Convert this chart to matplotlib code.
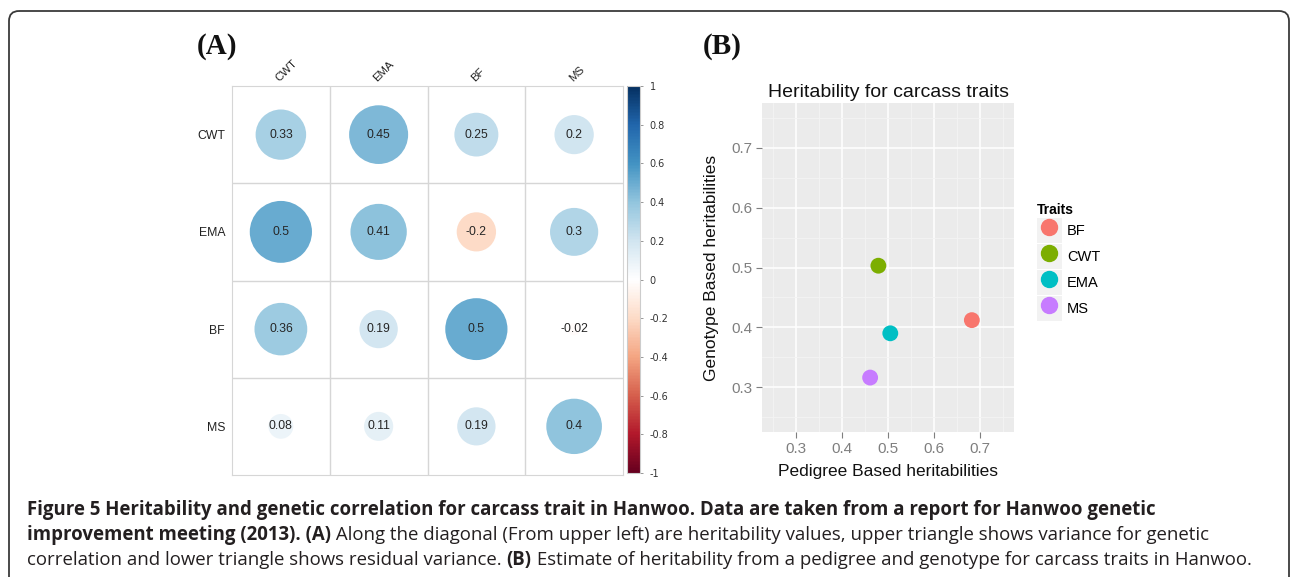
import numpy as np
import matplotlib
matplotlib.use("Agg")
import matplotlib.pyplot as plt
from matplotlib.colors import LinearSegmentedColormap, Normalize
from matplotlib.patches import Circle, Rectangle, FancyBboxPatch
from matplotlib.lines import Line2D
from matplotlib.cm import ScalarMappable
from matplotlib.legend_handler import HandlerTuple

# ---- data: panel A (corrplot) ----
traits = ["CWT", "EMA", "BF", "MS"]
corr_vals = np.array([
    [0.33, 0.45, 0.25, 0.2],
    [0.5, 0.41, -0.2, 0.3],
    [0.36, 0.19, 0.5, -0.02],
    [0.08, 0.11, 0.19, 0.4],
])
cbar_ticks = [-1, -0.8, -0.6, -0.4, -0.2, 0, 0.2, 0.4, 0.6, 0.8, 1]

# ---- data: panel B (heritability scatter) ----
b_traits = ["BF", "CWT", "EMA", "MS"]
b_pedigree = [0.683, 0.479, 0.505, 0.461]
b_genotype = [0.412, 0.503, 0.390, 0.316]
b_colors = ["#F8766D", "#7CAE00", "#00BFC4", "#C77CFF"]
b_ticks = [0.3, 0.4, 0.5, 0.6, 0.7]

# corrplot default palette
corr_palette = ["#67001F", "#B2182B", "#D6604D", "#F4A582", "#FDDBC7", "#FFFFFF",
                "#D1E5F0", "#92C5DE", "#4393C3", "#2166AC", "#053061"]
cmap = LinearSegmentedColormap.from_list("corrplot", corr_palette)
norm = Normalize(-1, 1)

W, H = 1290, 577
fig = plt.figure(figsize=(W / 100, H / 100), dpi=100)

# background axes in pixel coords (for the frame, panel letters and caption)
bg = fig.add_axes([0, 0, 1, 1])
bg.set_xlim(0, W)
bg.set_ylim(H, 0)
bg.axis("off")
bg.add_patch(FancyBboxPatch((9, 11), 1280, 700, boxstyle="round,pad=0,rounding_size=10",
                            fc="none", ec="#3a3a3a", lw=1.3))

bg.text(197, 46, "(A)", family="Liberation Serif", weight="bold", fontsize=21,
        ha="left", va="center", color="#111111")
bg.text(703, 46, "(B)", family="Liberation Serif", weight="bold", fontsize=21,
        ha="left", va="center", color="#111111")

# ---- panel A ----
axA = fig.add_axes([232 / W, 1 - 475 / H, 391 / W, 389 / H])
axA.set_xlim(0, 4)
axA.set_ylim(4, 0)
for i in range(4):
    for j in range(4):
        v = corr_vals[i, j]
        axA.add_patch(Circle((j + 0.5, i + 0.5), 0.45 * np.sqrt(abs(v)),
                             fc=cmap(norm(v)), ec="none"))
        axA.text(j + 0.5, i + 0.5, f"{v:g}", ha="center", va="center",
                 fontsize=8.8, family="Liberation Sans", color="#262626")
for k in [1, 2, 3]:
    axA.axhline(k, color="#D6D6D6", lw=1)
    axA.axvline(k, color="#D6D6D6", lw=1)
for sp in axA.spines.values():
    sp.set_color("#D6D6D6")
axA.set_yticks(np.arange(4) + 0.5, traits, fontsize=8.8, family="Liberation Sans")
axA.xaxis.tick_top()
axA.set_xticks(np.arange(4) + 0.5, traits, fontsize=8.2, family="Liberation Sans",
               rotation=45, ha="left", rotation_mode="anchor")
axA.tick_params(length=0, colors="#222222")
axA.tick_params(axis="y", pad=5)
axA.tick_params(axis="x", pad=2)

cax = fig.add_axes([627 / W, 1 - 473 / H, 13 / W, 387 / H])
cb = fig.colorbar(ScalarMappable(norm=norm, cmap=cmap), cax=cax, ticks=cbar_ticks)
cb.ax.set_yticklabels([f"{t:g}" for t in cbar_ticks])
cb.ax.tick_params(labelsize=7, length=2, width=0.6, color="#888888",
                  labelcolor="#333333", pad=5)
cb.outline.set_edgecolor("#CCCCCC")
cb.outline.set_linewidth(0.8)

# ---- panel B ----
axB = fig.add_axes([762 / W, 1 - 432 / H, 252 / W, 329 / H])
axB.set_facecolor("#EBEBEB")
for sp in axB.spines.values():
    sp.set_visible(False)
axB.set_xlim(0.225, 0.775)
axB.set_ylim(0.225, 0.775)
axB.set_xticks(b_ticks)
axB.set_yticks(b_ticks)
minor = [0.25, 0.35, 0.45, 0.55, 0.65, 0.75]
axB.set_xticks(minor, minor=True)
axB.set_yticks(minor, minor=True)
axB.grid(which="major", color="white", lw=1.1)
axB.grid(which="minor", color="#F4F4F4", lw=0.6)
axB.set_axisbelow(True)
axB.tick_params(which="major", length=4, width=0.8, color="#7F7F7F",
                labelcolor="#7F7F7F", labelsize=11, pad=3)
axB.tick_params(which="minor", length=0)
for lab in axB.get_xticklabels() + axB.get_yticklabels():
    lab.set_family("Liberation Sans")

for name, px, gy, c in zip(b_traits, b_pedigree, b_genotype, b_colors):
    axB.scatter(px, gy, s=130, color=c, edgecolors="none", zorder=3)

axB.set_title("Heritability for carcass traits", fontsize=14, family="Liberation Sans",
              pad=4, color="#111111")
axB.set_xlabel("Pedigree Based heritabilities", fontsize=12.5, family="Liberation Sans",
               labelpad=6, color="#111111")
axB.set_ylabel("Genotype Based heritabilities", fontsize=12.5, family="Liberation Sans",
               labelpad=9, color="#111111")

handles = [(Rectangle((0, 0), 1, 1, fc="#F2F2F2", ec="none"),
            Line2D([], [], marker="o", ls="none", color=c, markersize=11.5))
           for c in b_colors]
leg = axB.legend(handles, b_traits, handler_map={tuple: HandlerTuple(ndivide=1)},
                 loc="upper left", bbox_to_anchor=(1037 / W, 1 - 203 / H),
                 bbox_transform=fig.transFigure, frameon=False,
                 title="Traits", alignment="left",
                 prop={"family": "Liberation Sans", "size": 10.5},
                 title_fontproperties={"family": "Liberation Sans", "weight": "bold", "size": 10},
                 handlelength=1.7, handleheight=2.26, labelspacing=0.07,
                 handletextpad=0.35, borderpad=0, borderaxespad=0)

# ---- caption ----
cap_lines = [
    [("Figure 5 Heritability and genetic correlation for carcass trait in Hanwoo. "
      "Data are taken from a report for Hanwoo genetic", "bold")],
    [("improvement meeting (2013). (A)", "bold"),
     (" Along the diagonal (From upper left) are heritability values, upper triangle "
      "shows variance for genetic", "normal")],
    [("correlation and lower triangle shows residual variance. ", "normal"),
     ("(B)", "bold"),
     (" Estimate of heritability from a pedigree and genotype for carcass traits in Hanwoo.",
      "normal")],
]
cap_baselines = [515, 540, 565]
renderer = fig.canvas.get_renderer()
for segs, yb in zip(cap_lines, cap_baselines):
    x = 27
    for txt, wt in segs:
        t = bg.text(x, yb, txt, family="Open Sans", weight=wt, fontsize=13.4,
                    ha="left", va="baseline", color="#231F20")
        x += t.get_window_extent(renderer).width

fig.savefig("out.png", dpi=100)
